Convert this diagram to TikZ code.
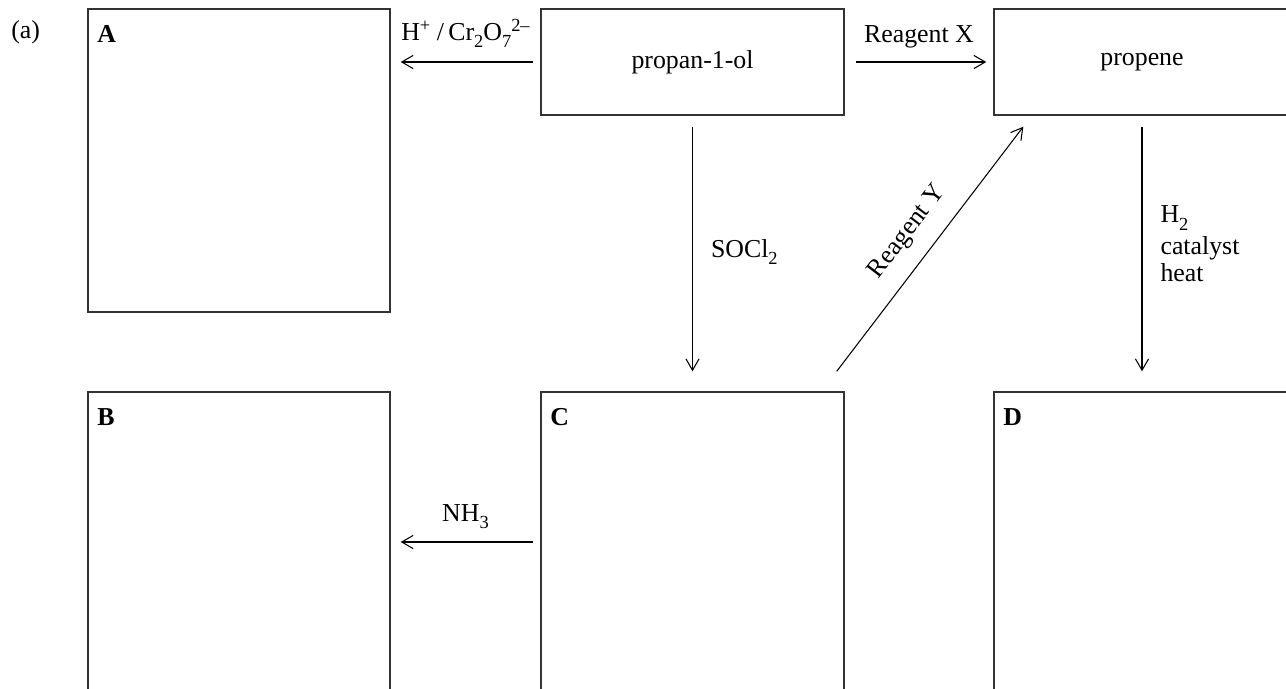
\documentclass[tikz,border=0pt]{standalone}
\usepackage{fontspec}
\setmainfont{Liberation Serif}
\usetikzlibrary{arrows.meta}

\newcommand{\chsub}[1]{\raisebox{-4.3pt}{\fontsize{10.5}{10.5}\selectfont #1}}
\newcommand{\chsup}[1]{\raisebox{4.6pt}{\fontsize{10.5}{10.5}\selectfont #1}}

\tikzset{
    every node/.style={font=\fontsize{14.7}{15.5}\selectfont},
    box/.style={draw=black!80, line width=0.8pt, inner sep=0pt},
    tag/.style={anchor=base west, inner sep=0pt, font=\fontsize{14.7}{15.5}\selectfont\bfseries},
    lbl/.style={anchor=base, inner sep=0pt},
    rxn/.style={-{Straight Barb[length=6.5pt,width=7.5pt]}, line width=0.6pt}
}

\begin{document}
\begin{tikzpicture}
            \useasboundingbox (0,0) rectangle (25.72,-13.76);
            \node[anchor=base west, inner sep=0pt] (part) at (0.22,-0.76) {(a)};
            \node[box, minimum width=6.04cm, minimum height=6.06cm] (A) at (4.78,-3.21) {};
            \node[box, minimum width=6.06cm, minimum height=2.12cm] (prop) at (13.85,-1.24) {propan-1-ol};
            \node[box, minimum width=5.92cm, minimum height=2.12cm] (pene) at (22.84,-1.24) {propene};
            \node[box, minimum width=6.04cm, minimum height=6.76cm] (B) at (4.78,-11.22) {};
            \node[box, minimum width=6.06cm, minimum height=6.76cm] (C) at (13.85,-11.22) {};
            \node[box, minimum width=5.92cm, minimum height=6.76cm] (D) at (22.84,-11.22) {};
            \node[tag] (tA) at (1.94,-0.84) {A};
            \node[tag] (tB) at (1.94,-8.50) {B};
            \node[tag] (tC) at (11.0,-8.50) {C};
            \node[tag] (tD) at (20.06,-8.50) {D};
            \draw[rxn, shorten <=0.14cm, shorten >=0.2cm] (prop.west) -- (prop.west -| A.east)
                node[lbl, midway, yshift=12.5pt] (ox) {H\chsup{+} /\,Cr\chsub{2}O\chsub{7}\chsup{2–}};
            \draw[rxn, shorten <=0.22cm, shorten >=0.14cm] (prop.east) -- (pene.west)
                node[lbl, midway, yshift=11.3pt] (rX) {Reagent X};
            \draw[rxn, shorten <=0.22cm, shorten >=0.4cm] (prop.south) -- (C.north)
                node[midway, anchor=base west, inner sep=0pt, xshift=0.36cm, yshift=-2pt] (soc) {SOCl\chsub{2}};
            \draw[rxn, shorten <=0.22cm, shorten >=0.4cm] (pene.south) -- (D.north)
                node[midway, anchor=north west, align=left, inner sep=0pt, xshift=0.36cm, yshift=27.5pt] (hyd) {H\chsub{2}\\[2.6pt]catalyst\\heat};
            \draw[rxn, shorten <=0.14cm, shorten >=0.2cm] ([yshift=0.38cm]C.west) -- ([yshift=0.38cm]B.east)
                node[lbl, midway, yshift=11.9pt] (am) {NH\chsub{3}};
            \draw[rxn] ([xshift=-0.16cm,yshift=0.4cm]C.north east) -- ([xshift=0.6cm,yshift=-0.22cm]pene.south west)
                node[midway, sloped, above=9.3pt, inner sep=0pt] (rY) {Reagent Y};
        \end{tikzpicture}
\end{document}
